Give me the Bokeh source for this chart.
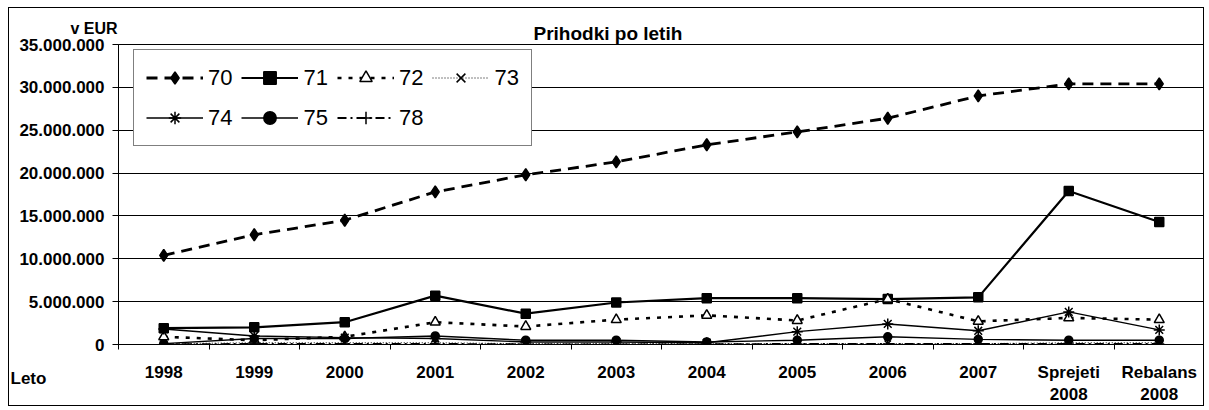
from bokeh.plotting import figure
from bokeh.models import Range1d, FixedTicker, Legend, LegendItem, Title
from bokeh.embed import file_html
from bokeh.resources import INLINE

# ---- data (EUR) ----
categories = ["1998", "1999", "2000", "2001", "2002", "2003", "2004", "2005",
              "2006", "2007", "Sprejeti\n2008", "Rebalans\n2008"]
s70 = [10_400_000, 12_800_000, 14_500_000, 17_800_000, 19_800_000, 21_300_000,
       23_300_000, 24_800_000, 26_400_000, 29_000_000, 30_400_000, 30_400_000]
s71 = [1_900_000, 2_000_000, 2_600_000, 5_700_000, 3_600_000, 4_900_000,
       5_400_000, 5_400_000, 5_300_000, 5_500_000, 17_900_000, 14_300_000]
s72 = [900_000, 500_000, 900_000, 2_600_000, 2_100_000, 2_900_000,
       3_400_000, 2_800_000, 5_300_000, 2_700_000, 3_100_000, 2_900_000]
s73 = [100_000, 200_000, 200_000, 200_000, 100_000, 100_000,
       100_000, 100_000, 100_000, 100_000, 200_000, 200_000]
s74 = [1_800_000, 1_000_000, 800_000, 700_000, 300_000, 300_000,
       200_000, 1_500_000, 2_400_000, 1_600_000, 3_800_000, 1_700_000]
s75 = [100_000, 700_000, 700_000, 1_000_000, 500_000, 500_000,
       300_000, 500_000, 900_000, 600_000, 500_000, 500_000]
s78 = [0, 50_000, 50_000, 50_000, 0, 0, 0, 50_000, 50_000, 50_000, 50_000, 50_000]
series_names = ["70", "71", "72", "73", "74", "75", "78"]
y_ticks = [0, 5_000_000, 10_000_000, 15_000_000, 20_000_000, 25_000_000,
           30_000_000, 35_000_000]
y_tick_labels = ["0", "5.000.000", "10.000.000", "15.000.000", "20.000.000",
                 "25.000.000", "30.000.000", "35.000.000"]
title_text = "Prihodki po letih"
y_unit_text = "v EUR"
x_name_text = "Leto"

FONT = "Liberation Sans"
x = [i + 0.5 for i in range(len(categories))]

p = figure(width=1196, height=399,
           x_range=Range1d(0, len(categories)), y_range=Range1d(0, y_ticks[-1]),
           output_backend="svg", toolbar_location=None,
           min_border_left=109, min_border_right=1,
           min_border_top=36, min_border_bottom=60)
p.styles = {"border": "1px solid black", "margin-left": "8px", "margin-top": "7px"}
p.background_fill_color = "white"
p.border_fill_color = "white"
p.outline_line_color = "black"
p.outline_line_width = 1

# axes
p.xaxis.ticker = FixedTicker(ticks=x, minor_ticks=list(range(len(categories) + 1)))
p.xaxis.major_label_overrides = {xi: c for xi, c in zip(x, categories)}
p.xaxis.major_tick_out = 0
p.xaxis.major_tick_in = 0
p.xaxis.minor_tick_out = 5
p.xaxis.minor_tick_in = 0
p.xaxis.major_label_standoff = 13
p.yaxis.ticker = FixedTicker(ticks=y_ticks, minor_ticks=[])
p.yaxis.major_label_overrides = {t: l for t, l in zip(y_ticks, y_tick_labels)}
p.yaxis.major_tick_out = 6
p.yaxis.major_tick_in = 0
p.yaxis.minor_tick_out = 0
p.yaxis.major_label_standoff = 8
for ax in (p.xaxis, p.yaxis):
    ax.axis_line_color = "black"
    ax.major_tick_line_color = "black"
    ax.minor_tick_line_color = "black"
    ax.major_label_text_font = FONT
    ax.major_label_text_font_style = "bold"
    ax.major_label_text_font_size = "17px"
    ax.major_label_text_color = "black"
p.xgrid.grid_line_color = None
p.ygrid.grid_line_color = "black"
p.ygrid.grid_line_width = 1
p.ygrid.grid_line_alpha = 1

styles = {
    "70": dict(line_width=2.8, line_dash="11 7", marker="diamond", size=12, fill="black"),
    "71": dict(line_width=2.2, line_dash="solid", marker="square", size=9, fill="black"),
    "72": dict(line_width=2.6, line_dash="4 7", marker="triangle", size=10, fill="white"),
    "73": dict(line_width=1.0, line_dash="1 2", marker="x", size=9, fill="black"),
    "74": dict(line_width=1.4, line_dash="solid", marker="asterisk", size=11, fill="black"),
    "75": dict(line_width=1.4, line_dash="solid", marker="circle", size=8, fill="black"),
    "78": dict(line_width=2.2, line_dash="9 4 2 4", marker="cross", size=10, fill="black"),
}
data = {"70": s70, "71": s71, "72": s72, "73": s73, "74": s74, "75": s75, "78": s78}

items = []
for name in series_names:
    st = styles[name]
    ys = data[name]
    r1 = p.line(x, ys, line_color="black", line_width=st["line_width"], line_dash=st["line_dash"])
    r2 = p.scatter(x, ys, marker=st["marker"], size=st["size"], line_color="black",
                   line_width=1.5, fill_color=st["fill"])
    items.append(LegendItem(label=name, renderers=[r1, r2]))

legend = Legend(items=items, orientation="horizontal", ncols=4,
                location=(15, 198), padding=12, spacing=9, margin=0,
                glyph_width=57, glyph_height=31, label_standoff=5,
                label_text_font=FONT, label_text_font_size="22px",
                label_text_color="black",
                border_line_color="black", border_line_width=1.5,
                background_fill_color="white", background_fill_alpha=1)
p.add_layout(legend, "center")

# texts (as titles in the side panels)
t_main = Title(text=title_text, align="left", offset=415, standoff=2,
               text_font=FONT, text_font_style="bold", text_font_size="19px",
               text_color="black")
t_unit = Title(text=y_unit_text, align="left", offset=-48, standoff=-34,
               text_font=FONT, text_font_style="bold", text_font_size="16px",
               text_color="black")
p.add_layout(t_main, "above")
p.add_layout(t_unit, "above")
t_leto = Title(text=x_name_text, align="left", offset=-108, standoff=-78,
               vertical_align="top",
               text_font=FONT, text_font_style="bold", text_font_size="17px",
               text_color="black")
p.add_layout(t_leto, "below")

open("out.html", "w").write(file_html(p, INLINE))
